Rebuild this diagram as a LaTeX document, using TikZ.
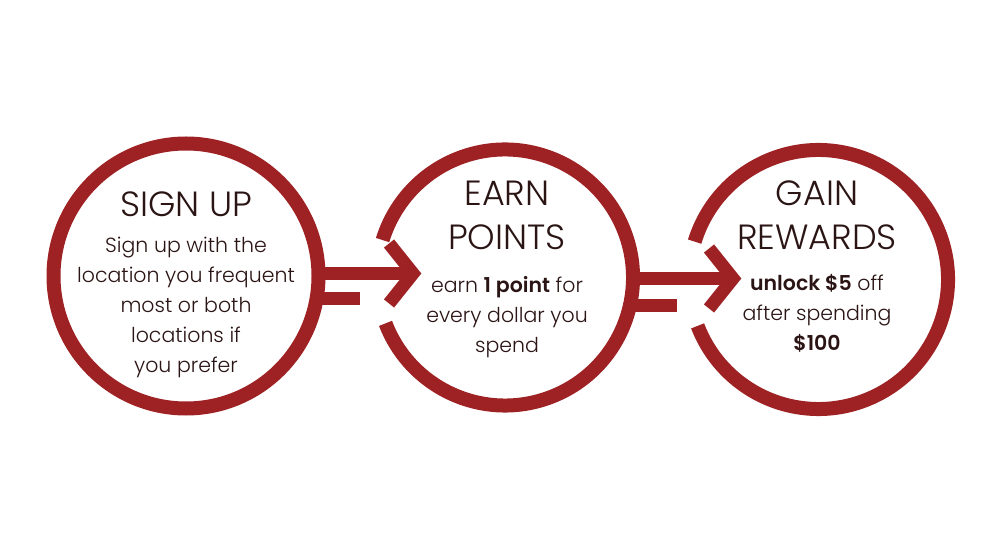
\documentclass[tikz,border=0pt]{standalone}
\usepackage{fontspec}
\IfFontExistsTF{Poppins Light}
  {\setmainfont{Poppins}[UprightFont=* Light, BoldFont=* SemiBold]}
  {\setmainfont{Poppins}}
\definecolor{brick}{HTML}{9E2224}
\definecolor{ink}{HTML}{2B1414}
\begin{document}
\begin{tikzpicture}[x=1pt, y=1pt,
        ring/.style={draw=brick, line width=14pt},
        bar/.style={draw=brick, line width=13pt},
        head/.style={draw=brick, line width=13pt, miter limit=10},
        stage/.style={circle, inner sep=0pt, outer sep=0pt},
        title/.style={text=ink, align=center, font=\fontsize{35}{44}\selectfont},
        body/.style={text=ink, align=center, font=\fontsize{20.5}{30}\selectfont}]
        \useasboundingbox (0,0) rectangle (1000,557);

        % Left circle (sign up)
        \node[stage, minimum size=265pt, ring] (signup) at (186,281) {};
        \node[title] (signuptitle) at (186,353) {SIGN UP};
        \node[body] (signuptext) at (186,250) {Sign up with the\\location you frequent\\most or both\\locations if\\you prefer};

        % Middle circle (earn points)
        \node[stage, minimum size=256pt] (earn) at (505,279.5) {};
        \draw[ring] (earn.-159) arc[start angle=-159, end angle=163, radius=128];
        \node[title] (earntitle) at (507,342) {EARN\\POINTS};
        \node[body] (earntext) at (507,240) {earn \textbf{1 point} for\\every dollar you\\spend};

        % Right circle (gain rewards)
        \node[stage, minimum size=259pt] (gain) at (818.5,277.5) {};
        \draw[ring] (gain.-159) arc[start angle=-159, end angle=163, radius=129.5];
        \node[title] (gaintitle) at (817,342) {GAIN\\REWARDS};
        \node[body] (gaintext) at (817,244) {\textbf{unlock \$5} off\\after spending\\\textbf{\$100}};

        % First arrow
        \coordinate (tip1) at (413,283.5);
        \coordinate (bar1) at (360,258);
        \draw[bar] (signup.east |- tip1) -- (tip1);
        \draw[bar] (signup.east |- bar1) -- (bar1);
        \draw[head] (tip1) ++(-24,30) -- ++(24,-30) -- ++(-24,-30);

        % Second arrow
        \coordinate (tip2) at (733,278.5);
        \coordinate (bar2) at (677,251);
        \draw[bar] (earn.east |- tip2) -- (tip2);
        \draw[bar] (earn.east |- bar2) -- (bar2);
        \draw[head] (tip2) ++(-24,30) -- ++(24,-30) -- ++(-24,-30);
    \end{tikzpicture}
\end{document}
